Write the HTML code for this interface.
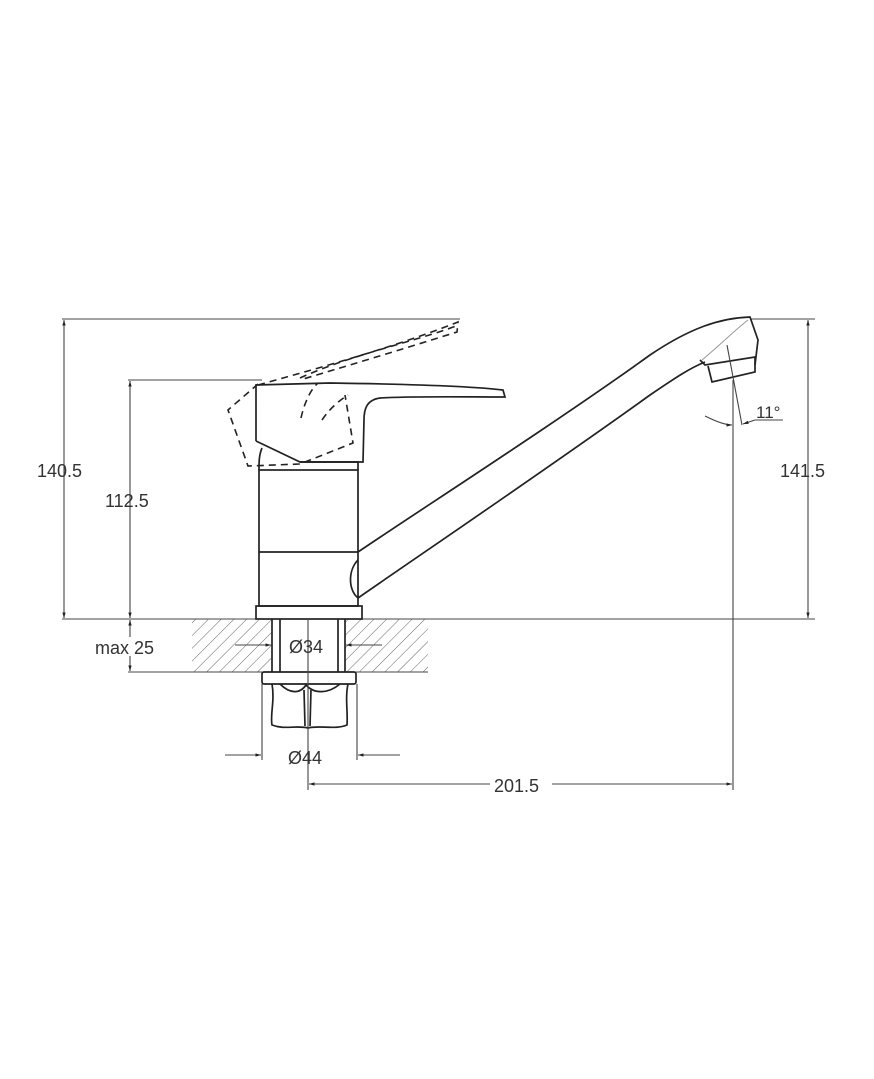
<!DOCTYPE html>
<html><head><meta charset="utf-8"><style>
html,body{margin:0;padding:0;background:#fff;}
svg{display:block}
text{font-family:"Liberation Sans",sans-serif;font-size:18px;fill:#333}
</style></head><body>
<svg width="874" height="1079" viewBox="0 0 874 1079" xmlns="http://www.w3.org/2000/svg">
<defs>
<pattern id="h" patternUnits="userSpaceOnUse" width="9" height="9" patternTransform="rotate(45)">
<line x1="0" y1="0" x2="0" y2="9" stroke="#555" stroke-width="0.9"/>
</pattern>
<marker id="a" viewBox="0 0 10 10" refX="10" refY="5" markerWidth="8" markerHeight="5" orient="auto-start-reverse">
<path d="M0,2 L10,5 L0,8z" fill="#222"/>
</marker>
</defs>
<g stroke="#444" stroke-width="1.1" fill="none">
<line x1="62" y1="319" x2="460" y2="319"/>
<line x1="128" y1="380" x2="262" y2="380"/>
<line x1="62" y1="619" x2="815" y2="619"/>
<line x1="128" y1="672" x2="192" y2="672"/>
<line x1="750" y1="319" x2="815" y2="319"/>
<line x1="64" y1="320" x2="64" y2="618" marker-start="url(#a)" marker-end="url(#a)"/>
<line x1="130" y1="381" x2="130" y2="618" marker-start="url(#a)" marker-end="url(#a)"/>
<line x1="130" y1="620" x2="130" y2="637" marker-start="url(#a)"/>
<line x1="130" y1="656" x2="130" y2="671" marker-end="url(#a)"/>
<line x1="808" y1="320" x2="808" y2="618" marker-start="url(#a)" marker-end="url(#a)"/>
</g>
<rect x="192" y="619" width="80" height="53" fill="url(#h)"/>
<rect x="345" y="619" width="83" height="53" fill="url(#h)"/>
<g stroke="#222" stroke-width="1.7" fill="none">
<line x1="192" y1="672" x2="428" y2="672" stroke="#444" stroke-width="1.1"/>
<line x1="272" y1="619" x2="272" y2="672"/><line x1="280" y1="619" x2="280" y2="672"/>
<line x1="338" y1="619" x2="338" y2="672"/><line x1="345" y1="619" x2="345" y2="672"/>
<rect x="262" y="672" width="94" height="12" rx="2"/>
<path d="M272,684 C275,700 270,715 272,725 C285,730 295,725 308,728 C320,725 335,730 347,725 C348,712 345,698 348,684"/>
<path d="M280,684 C290,694 300,694 306,685 C314,694 328,694 340,684"/>
<line x1="304" y1="690" x2="305" y2="726"/><line x1="311" y1="690" x2="310" y2="726"/>
<rect x="256" y="606" width="106" height="13"/>
<rect x="259" y="470" width="99" height="136"/>
<line x1="259" y1="552" x2="358" y2="552"/>
<path d="M262,448 C259,455 259,462 259,470"/>
<path d="M256,441 L256,385 L330,383 C400,384 470,386 503,390 L505,397 C470,397 410,396 380,398 C366,400 364,410 364,420 L363,462 L300,462 L256,441"/>
<path d="M300,462 L358,462 L358,470"/>
<path d="M358,552 C420,510 560,420 650,355 C690,328 720,318 750,317 L758,340 L755,365"/>
<path d="M358,598 C420,555 560,460 650,395 C675,378 690,368 705,362"/>
<path d="M358,560 C348,570 348,590 358,598"/>
<path d="M700,360 L705,365 L755,357 L755,372 L712,382 L708,366"/>
<path d="M702,360 C720,345 735,330 748,320" stroke="#999" stroke-width="1"/>
</g>
<g stroke="#222" stroke-width="1.6" fill="none" stroke-dasharray="7,5">
<path d="M258,385 C330,365 400,345 458,322 L457,332 C400,350 340,368 300,380"/>
<path d="M300,378 C350,355 420,340 456,326"/>
<path d="M258,384 L228,410 L248,466 L300,464 L353,443 L345,395"/>
<path d="M301,418 C305,400 312,388 318,383"/>
<path d="M322,420 C330,408 340,400 348,395"/>
</g>
<g stroke="#444" stroke-width="1.1" fill="none">
<line x1="308" y1="619" x2="308" y2="790"/>
<line x1="262" y1="684" x2="262" y2="760"/>
<line x1="357" y1="684" x2="357" y2="760"/>
<line x1="225" y1="755" x2="261" y2="755" marker-end="url(#a)"/>
<line x1="400" y1="755" x2="358" y2="755" marker-end="url(#a)"/>
<line x1="235" y1="645" x2="271" y2="645" marker-end="url(#a)"/>
<line x1="382" y1="645" x2="346" y2="645" marker-end="url(#a)"/>
<line x1="309" y1="784" x2="490" y2="784" marker-start="url(#a)"/>
<line x1="552" y1="784" x2="732" y2="784" marker-end="url(#a)"/>
<line x1="733" y1="380" x2="733" y2="790"/>
<line x1="727" y1="345" x2="742" y2="425"/>
<path d="M705,416 C715,421 725,425 732,425" marker-end="url(#a)"/>
<path d="M755,420 L743,424" marker-end="url(#a)"/>
<line x1="755" y1="420" x2="783" y2="420"/>
</g>
<text x="37" y="477">140.5</text>
<text x="105" y="507">112.5</text>
<text x="95" y="654">max 25</text>
<text x="780" y="477">141.5</text>
<text x="289" y="653">Ø34</text>
<text x="288" y="764">Ø44</text>
<text x="494" y="792">201.5</text>
<text x="756" y="418" style="font-size:17px">11°</text>
</svg>
</body></html>
